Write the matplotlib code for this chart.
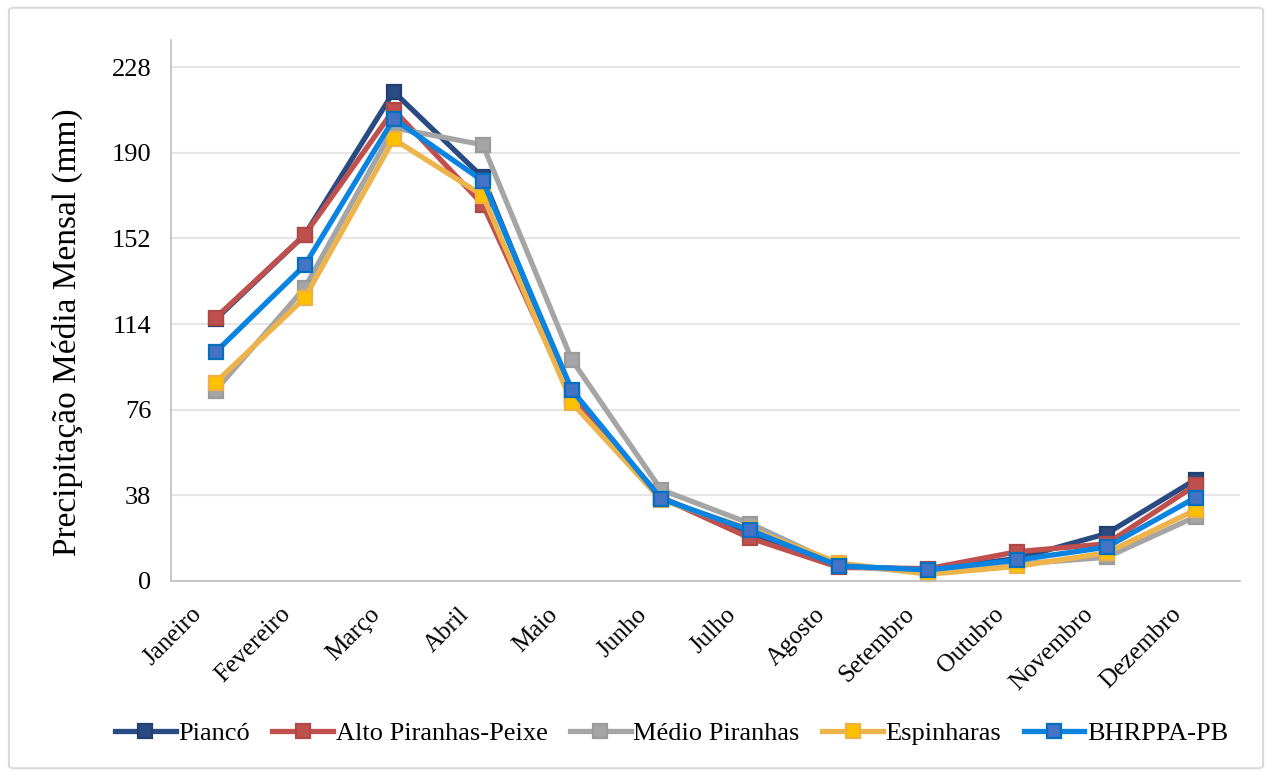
import matplotlib
matplotlib.use("Agg")
import matplotlib.pyplot as plt
import matplotlib.transforms as mtransforms
from matplotlib.patches import FancyBboxPatch

months = ["Janeiro", "Fevereiro", "Março", "Abril", "Maio", "Junho",
          "Julho", "Agosto", "Setembro", "Outubro", "Novembro", "Dezembro"]

pianco = [116, 153.5, 217, 179, 82, 37, 21, 6.5, 5, 10, 21, 45]
alto_piranhas_peixe = [116.7, 153.5, 209, 167, 81, 37, 19, 6, 5.5, 13, 16.5, 42.5]
medio_piranhas = [84.5, 130, 201, 193.5, 98, 40.5, 25.5, 7, 3.5, 7.5, 10.5, 28.5]
espinharas = [88, 125.5, 196, 171, 79, 36, 23, 8, 3, 6.5, 12.5, 31.5]
bhrppa_pb = [101.5, 140, 205, 177.5, 84.7, 36.5, 22.5, 6.7, 4.9, 9.3, 15, 37]

yticks = [0, 38, 76, 114, 152, 190, 228]

series = [
    ("Piancó", pianco, "#2A4A82", "#2A4A82", "#22406F"),
    ("Alto Piranhas-Peixe", alto_piranhas_peixe, "#C0504D", "#C0504D", "#B04845"),
    ("Médio Piranhas", medio_piranhas, "#A5A5A5", "#A5A5A5", "#9A9A9A"),
    ("Espinharas", espinharas, "#EDB44C", "#FFC000", "#F0B040"),
    ("BHRPPA-PB", bhrppa_pb, "#0A84E0", "#4472C4", "#0070C0"),
]

plt.rcParams["font.family"] = ["Liberation Serif", "DejaVu Serif"]

fig = plt.figure(figsize=(12.72, 7.76), dpi=100)
ax = fig.add_axes([0.1344, 0.2513, 0.8406, 0.6972])

# light rounded frame around the whole chart
frame = FancyBboxPatch((0.007, 0.01), 0.986, 0.98,
                       boxstyle="round,pad=0,rounding_size=0.004",
                       transform=fig.transFigure, facecolor="none",
                       edgecolor="#D9D9D9", linewidth=1.5, zorder=0)
fig.patches.append(frame)

x = list(range(len(months)))
for name, vals, lc, mfc, mec in series:
    ax.plot(x, vals, color=lc, linewidth=3.8, marker="s", markersize=10,
            markerfacecolor=mfc, markeredgecolor=mec, markeredgewidth=1.6,
            label=name, solid_joinstyle="miter")

ax.set_xlim(-0.5, len(months) - 0.5)
ax.set_ylim(0, 240)
ax.set_yticks(yticks)
ax.set_yticklabels([str(v) for v in yticks], fontsize=19)
ax.set_xticks(x)
ax.set_xticklabels(months, rotation=45, ha="right", va="top",
                   rotation_mode="anchor", fontsize=18)
ax.tick_params(axis="y", length=0, pad=14)
ax.tick_params(axis="x", length=0, pad=10)

# shift the slanted month labels so they sit centred under each tick
shift = mtransforms.ScaledTranslation(-18 / 72, -6 / 72, fig.dpi_scale_trans)
for lbl in ax.get_xticklabels():
    lbl.set_transform(lbl.get_transform() + shift)

ax.grid(axis="y", color="#E6E6E6", linewidth=1.5)
ax.set_axisbelow(True)
for side in ["top", "right"]:
    ax.spines[side].set_visible(False)
ax.spines["left"].set_color("#BFBFBF")
ax.spines["bottom"].set_color("#BFBFBF")
ax.spines["left"].set_linewidth(1.2)
ax.spines["bottom"].set_linewidth(1.2)

ax.set_ylabel("Precipitação Média Mensal (mm)", fontsize=24)
ax.yaxis.set_label_coords(-0.082, 0.46)

fig.legend(loc="center", bbox_to_anchor=(0.528, 0.055), ncol=5,
           frameon=False, fontsize=19, handlelength=2.3,
           handletextpad=0.1, columnspacing=0.85)

fig.savefig("out.png", dpi=100)
